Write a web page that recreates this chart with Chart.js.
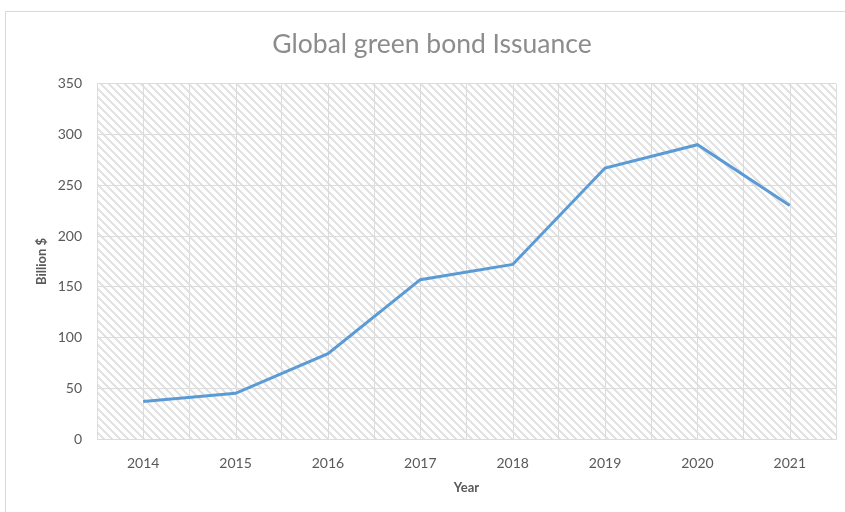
<!DOCTYPE html>
<html>
<head>
<meta charset="utf-8">
<script src="https://cdn.jsdelivr.net/npm/chart.js@4"></script>
<style>
  html, body { margin: 0; padding: 0; background: #fff; }
  body { width: 845px; height: 512px; overflow: hidden; position: relative; }
  #frame {
    position: absolute; left: 5px; top: 11px; width: 900px; height: 600px;
    border-top: 1px solid #d9d9d9; border-left: 1px solid #d9d9d9;
    pointer-events: none;
  }
  #wrap { position: absolute; left: 0; top: 0; width: 845px; height: 512px; }
</style>
</head>
<body>
<div id="wrap"><canvas id="chart" width="845" height="512"></canvas></div>
<div id="frame"></div>
<script>
const years = ["2014", "2015", "2016", "2017", "2018", "2019", "2020", "2021"];
const issuance = [37, 45, 84, 157, 172, 267, 290, 230];
const yTicks = [0, 50, 100, 150, 200, 250, 300, 350];

const gridColor = "#dcdcdc";
const textColor = "#595959";

/* Hatched plot background */
function makeHatch() {
    const c = document.createElement("canvas");
    c.width = 8;
    c.height = 8;
    const g = c.getContext("2d");
    g.fillStyle = "#ffffff";
    g.fillRect(0, 0, 8, 8);
    g.fillStyle = "#e3e3e3";
    for (let y = 0; y < 8; y++) {
        for (let x = 0; x < 8; x++) {
            if (((x - y) % 8 + 8) % 8 < 3) g.fillRect(x, y, 1, 1);
        }
    }
    return c;
}

const hatchPlugin = {
    id: "hatch",
    beforeDraw(chart) {
        const { ctx, chartArea: a } = chart;
        ctx.save();
        ctx.fillStyle = ctx.createPattern(makeHatch(), "repeat");
        ctx.fillRect(a.left, a.top, a.right - a.left, a.bottom - a.top);
        ctx.restore();
    }
};

/* Extra vertical gridlines through each category centre */
const centreLines = {
    id: "centreLines",
    beforeDatasetsDraw(chart) {
        const { ctx, chartArea: a, scales } = chart;
        ctx.save();
        ctx.strokeStyle = gridColor;
        ctx.lineWidth = 1;
        years.forEach((_, i) => {
            const x = Math.round(scales.x.getPixelForValue(i)) + 0.5;
            ctx.beginPath();
            ctx.moveTo(x, a.top);
            ctx.lineTo(x, a.bottom);
            ctx.stroke();
        });
        ctx.restore();
    }
};

new Chart(document.getElementById("chart"), {
    type: "line",
    data: {
        labels: years,
        datasets: [{
            label: "Billion $",
            data: issuance,
            borderColor: "#5b9bd5",
            borderWidth: 3,
            pointRadius: 0,
            tension: 0,
            fill: false
        }]
    },
    options: {
        responsive: false,
        animation: false,
        layout: { padding: { left: 28, right: 9, top: 0, bottom: 0 } },
        plugins: {
            legend: { display: false },
            tooltip: { enabled: false },
            title: {
                display: true,
                text: "Global green bond Issuance",
                color: "#8c8c8c",
                font: { family: "Lato", size: 26.5, weight: "normal" },
                padding: { top: 29, bottom: 23 }
            }
        },
        scales: {
            x: {
                offset: true,
                grid: { color: gridColor, offset: true, drawTicks: false },
                border: { color: gridColor },
                ticks: { color: textColor, font: { family: "Lato", size: 14 }, padding: 16 },
                title: {
                    display: true,
                    text: "Year",
                    color: textColor,
                    font: { family: "Lato", size: 13, weight: "bold" },
                    padding: { top: 0, bottom: 16 }
                },
                afterFit(s) { s.height = 73; }
            },
            y: {
                min: 0,
                max: 350,
                afterBuildTicks(s) { s.ticks = yTicks.map(v => ({ value: v })); },
                grid: { color: gridColor, drawTicks: false },
                border: { display: false },
                ticks: { color: textColor, font: { family: "Lato", size: 14 }, padding: 15 },
                title: {
                    display: true,
                    text: "Billion $",
                    color: textColor,
                    font: { family: "Lato", size: 13, weight: "bold" },
                    padding: { top: 6, bottom: 0 }
                },
                afterFit(s) { s.width = 69; }
            }
        }
    },
    plugins: [hatchPlugin, centreLines]
});
</script>
</body>
</html>
